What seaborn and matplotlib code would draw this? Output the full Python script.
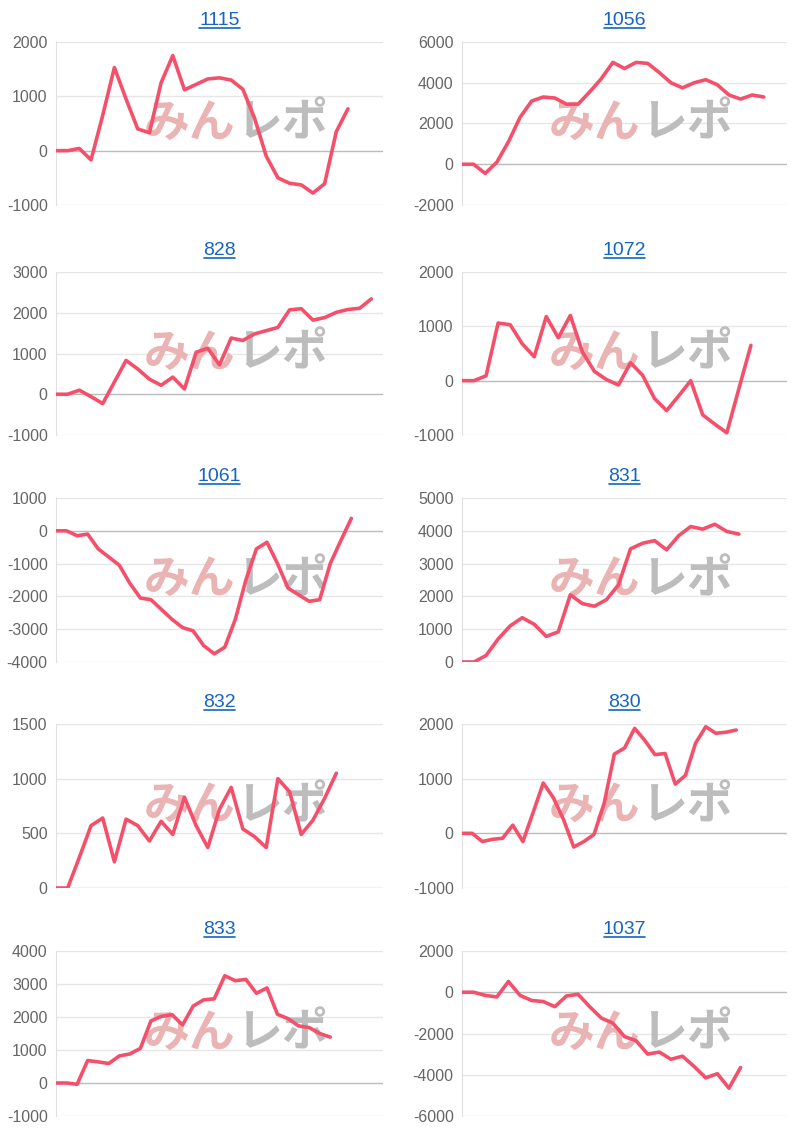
import matplotlib
matplotlib.use("Agg")
import matplotlib.pyplot as plt
import seaborn as sns
import pandas as pd

sns.set_style("white")
plt.rcParams['font.family'] = ['Liberation Sans', 'Noto Sans CJK JP']
plt.rcParams['axes.unicode_minus'] = False

# data per panel
titles = ["1115", "1056", "828", "1072", "1061", "831", "832", "830", "833", "1037"]

v1115 = [0, 0, 40, -170, 650, 1530, 950, 400, 330, 1250, 1750, 1120, 1220, 1320, 1340,
         1300, 1130, 600, -100, -500, -600, -630, -780, -610, 350, 770]
v1056 = [0, 0, -450, 100, 1100, 2300, 3100, 3300, 3250, 2950, 2950, 3550, 4200, 5000,
         4700, 5000, 4950, 4500, 4000, 3750, 4000, 4150, 3900, 3400, 3200, 3400, 3300]
v828 = [0, 0, 100, -60, -230, 300, 830, 620, 370, 220, 420, 130, 1030, 1130, 720, 1380,
        1320, 1480, 1560, 1640, 2070, 2100, 1820, 1880, 2010, 2080, 2110, 2340]
v1072 = [0, 0, 90, 1060, 1030, 680, 440, 1180, 790, 1200, 530, 170, 20, -80, 330, 100,
         -330, -550, -280, 0, -630, -800, -960, -150, 650]
v1061 = [0, 0, -150, -100, -550, -800, -1050, -1600, -2050, -2100, -2400, -2700, -2950,
         -3050, -3500, -3750, -3550, -2700, -1500, -550, -350, -1000, -1750, -1950, -2150,
         -2100, -1000, -300, 380]
v831 = [0, 0, 200, 700, 1100, 1350, 1150, 780, 920, 2050, 1780, 1700, 1900, 2350, 3450,
        3620, 3700, 3420, 3850, 4130, 4050, 4200, 3980, 3900]
v832 = [0, 0, 280, 570, 640, 240, 630, 570, 430, 610, 490, 830, 570, 370, 720, 920, 540,
        470, 370, 1000, 880, 490, 620, 820, 1050]
v830 = [0, 0, -150, -110, -90, 150, -150, 380, 920, 650, 250, -250, -150, -20, 550, 1450,
        1560, 1920, 1700, 1440, 1460, 900, 1060, 1650, 1950, 1830, 1850, 1890]
v833 = [0, 0, -40, 680, 640, 590, 820, 880, 1050, 1880, 2020, 2070, 1760, 2330, 2520,
        2550, 3250, 3100, 3140, 2720, 2880, 2080, 1950, 1730, 1680, 1500, 1390]
v1037 = [0, 0, -150, -230, 520, -150, -400, -450, -700, -180, -100, -700, -1250, -1500,
         -2150, -2350, -3000, -2900, -3250, -3100, -3600, -4150, -3950, -4650, -3650]

series = [v1115, v1056, v828, v1072, v1061, v831, v832, v830, v833, v1037]
n_labels = [29, 29, 29, 28, 32, 28, 29, 33, 32, 29]
y_ticks = [
    [-1000, 0, 1000, 2000],
    [-2000, 0, 2000, 4000, 6000],
    [-1000, 0, 1000, 2000, 3000],
    [-1000, 0, 1000, 2000],
    [-4000, -3000, -2000, -1000, 0, 1000],
    [0, 1000, 2000, 3000, 4000, 5000],
    [0, 500, 1000, 1500],
    [-1000, 0, 1000, 2000],
    [-1000, 0, 1000, 2000, 3000, 4000],
    [-6000, -4000, -2000, 0, 2000],
]

W, H = 805, 1130
fig = plt.figure(figsize=(W / 100, H / 100), dpi=100)

row_top = [42, 272, 498, 724, 951]
row_bot = [205, 435, 662, 888, 1116]
col_l = [56, 462]
col_r = [383, 787]
link = "#1565c0"

for i, (title, vals) in enumerate(zip(titles, series)):
    r, c = divmod(i, 2)
    h = row_bot[r] - row_top[r]
    ax = fig.add_axes([col_l[c] / W, 1 - row_bot[r] / H,
                       (col_r[c] - col_l[c]) / W, h / H])
    df = pd.DataFrame({"x": range(len(vals)), "y": vals})
    ticks = y_ticks[i]
    for t in ticks:
        ax.axhline(t, color="#bbbbbb" if t == 0 else "#e6e6e6", lw=1, zorder=0)
    # watermark
    ax.text(0.55, 0.5, "みん", transform=ax.transAxes, ha="right", va="center",
            fontsize=33, fontweight="bold", style="italic", color="#eab4b4",
            family=["Noto Sans CJK JP"], zorder=1)
    ax.text(0.55, 0.5, "レポ", transform=ax.transAxes, ha="left", va="center",
            fontsize=33, fontweight="bold", style="italic", color="#bdbdbd",
            family=["Noto Sans CJK JP"], zorder=1)
    sns.lineplot(data=df, x="x", y="y", ax=ax, color="#f4506b", lw=2.6, zorder=3)
    ax.set_xlim(0, n_labels[i] - 1)
    ax.set_ylim(ticks[0], ticks[-1])
    ax.set_yticks(ticks)
    ax.set_xticks([])
    ax.set_xlabel("")
    ax.set_ylabel("")
    ax.tick_params(axis="y", length=0, labelsize=11.5, labelcolor="#666666", pad=6)
    for s in ["top", "right", "bottom"]:
        ax.spines[s].set_visible(False)
    ax.spines["left"].set_color("#e0e0e0")

    # link-style title with underline
    cx = (col_l[c] + col_r[c]) / 2
    ax.text(0.5, 1 + 13 / h, title, transform=ax.transAxes,
            ha="center", va="bottom", color=link, fontsize=14)
    wpx = len(title) * 10.2
    y_ul = row_top[r] - 14
    fig.add_artist(plt.Line2D([(cx - wpx / 2) / W, (cx + wpx / 2) / W],
                              [1 - y_ul / H, 1 - y_ul / H], color=link, lw=1.2))

fig.savefig("out.png", dpi=100)
